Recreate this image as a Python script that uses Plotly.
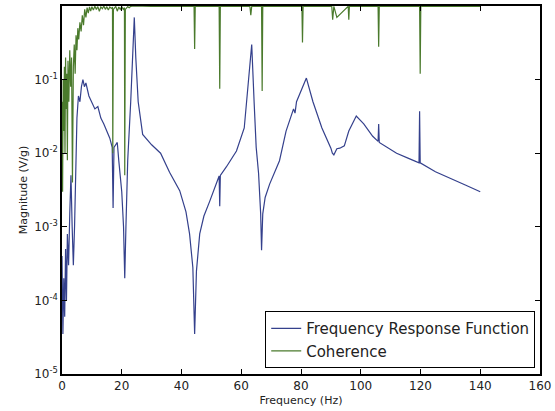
import plotly.graph_objects as go

# Frequency Response Function (Hz, V/g)
frf_freq = [0.0, 0.3, 0.6, 0.9, 1.2, 1.5, 1.8, 2.2, 2.6, 3.0, 3.4, 3.8, 4.2, 4.6, 5.0, 5.5, 6.0, 6.5, 7.0, 7.5, 8.0,
            9.0, 10.0, 11.0, 12.0, 13.0, 14.0, 15.0, 16.0, 16.8, 17.1, 17.4, 18.0, 18.5, 19.0, 20.0, 20.6, 21.0, 21.4,
            22.0, 23.0, 23.7, 24.2, 24.7, 25.5, 27.0, 30.0, 33.0, 36.0, 39.4, 41.5, 42.7, 43.8, 44.4, 45.0, 46.1,
            47.5, 49.4, 51.0, 52.6, 52.8, 53.0, 55.0, 58.4, 61.0, 62.2, 63.5, 64.3, 65.0, 65.8, 66.5, 66.8, 67.2,
            68.0, 69.5, 72.8, 75.0, 77.5, 78.0, 78.5, 80.0, 81.8, 84.0, 87.0, 90.0, 90.5, 91.0, 92.0, 93.0, 94.5,
            96.0, 98.5, 101.0, 104.0, 105.8, 106.0, 106.2, 108.0, 112.0, 116.0, 119.5, 119.7, 119.9, 125.0, 130.0,
            135.0, 140.0]
frf_mag = [4e-4, 3.5e-5, 2e-4, 6e-5, 5e-4, 1e-4, 8e-4, 3e-4, 1.5e-3, 5e-3, 1e-3, 3e-4, 1e-3, 6e-3, 3e-2, 6e-2, 5e-2, 8e-2, 1e-1, 8e-2, 9e-2,
           6e-2, 5e-2, 4e-2, 4.3e-2, 3e-2, 2.5e-2, 2e-2, 1.6e-2, 1.2e-2, 1.8e-3, 1.2e-2, 1.3e-2, 1.4e-2, 8e-3, 3e-3, 1e-3, 2e-4, 1e-3,
           8e-3, 5e-2, 2e-1, 7e-1, 2e-1, 5e-2, 1.8e-2, 1.3e-2, 1e-2, 5.5e-3, 3.1e-3, 1.6e-3, 8e-4, 2.8e-4, 3.5e-5, 2.5e-4, 8e-4,
           1.4e-3, 2.2e-3, 3.4e-3, 4.9e-3, 1.9e-3, 5e-3, 6.5e-3, 1.07e-2, 2.2e-2, 8.5e-2, 3e-1, 5e-2, 1.2e-2, 5.3e-3, 1.5e-3, 4.8e-4, 1.5e-3,
           2.5e-3, 3.8e-3, 7.9e-3, 2e-2, 4e-2, 3.5e-2, 5e-2, 7e-2, 1.05e-1, 5e-2, 2.2e-2, 1.17e-2, 1e-2, 9.5e-3, 1.15e-2, 1.17e-2, 1.26e-2,
           2e-2, 3.2e-2, 2.5e-2, 1.7e-2, 1.45e-2, 2.5e-2, 1.4e-2, 1.26e-2, 1e-2, 8.5e-3, 7.4e-3, 3.7e-2, 7.4e-3, 5.6e-3, 4.5e-3,
           3.7e-3, 3e-3]

# Coherence (0..1)
coh_freq = [0.0, 0.2, 0.4, 0.6, 0.8, 1.0, 1.2, 1.4, 1.6, 1.8, 2.0, 2.3, 2.6, 2.9, 3.2, 3.5, 3.8, 4.1, 4.4, 4.7, 5.0, 5.3,
            5.6, 6.0, 6.4, 6.8, 7.2, 7.6, 8.0, 8.4, 8.8, 9.2, 9.6, 10.0, 10.5, 11.0, 11.5, 12.0, 12.5, 13.0, 13.5, 14.0,
            14.5, 15.0, 15.5, 16.0, 16.5, 16.9, 17.0, 17.2, 18.0, 18.5, 19.0, 19.5, 20.0, 20.5, 20.9, 21.0, 21.2, 22.0,
            22.5, 23.0, 24.0, 30.0, 44.2, 44.4, 44.6, 52.6, 52.8, 53.0, 60.0, 62.9, 63.2, 63.5, 66.8, 67.0, 67.2,
            80.3, 80.5, 80.7, 90.3, 90.6, 91.0, 92.0, 95.8, 96.0, 96.2, 105.8, 106.0, 106.2, 119.7, 119.9, 120.1,
            130.0, 140.0]
coh = [0.05, 0.003, 0.1, 0.02, 0.15, 0.01, 0.2, 0.04, 0.12, 0.008, 0.18, 0.05, 0.25, 0.08, 0.2, 0.004, 0.15, 0.3, 0.12, 0.4, 0.25, 0.5,
       0.35, 0.6, 0.45, 0.75, 0.55, 0.9, 0.7, 0.95, 0.8, 0.97, 0.85, 0.98, 0.88, 0.99, 0.9, 0.98, 0.85, 0.97, 0.92, 1.0,
       0.9, 0.98, 0.88, 0.97, 0.93, 0.95, 0.01, 0.9, 0.99, 0.85, 0.97, 0.9, 0.98, 0.9, 0.95, 0.005, 0.9, 0.98,
       0.95, 0.99, 1.0, 0.99, 0.99, 0.26, 0.99, 0.99, 0.075, 0.99, 0.99, 0.99, 0.75, 0.99, 0.99, 0.07, 0.99,
       0.99, 0.32, 0.99, 0.99, 0.65, 0.99, 0.7, 0.99, 0.65, 0.99, 0.99, 0.28, 0.99, 0.99, 0.12, 0.99,
       0.99, 0.99]

x_ticks = [0, 20, 40, 60, 80, 100, 120, 140, 160]
y_ticks = [1e-5, 1e-4, 1e-3, 1e-2, 1e-1, 1e0]
y_ticktext = ["10<sup>-5</sup>", "10<sup>-4</sup>", "10<sup>-3</sup>", "10<sup>-2</sup>", "10<sup>-1</sup>", "10<sup>0</sup>"]

fig = go.Figure()
fig.add_trace(go.Scatter(x=frf_freq, y=frf_mag, mode="lines", name="Frequency Response Function",
                         line=dict(color="#34408c", width=1.2)))
fig.add_trace(go.Scatter(x=coh_freq, y=coh, mode="lines", name="Coherence",
                         line=dict(color="#4a7a2c", width=1.2)))

axis_common = dict(showgrid=False, zeroline=False, showline=True, linecolor="black", linewidth=1.5,
                   mirror="ticks", ticks="inside", ticklen=5, tickcolor="black",
                   tickfont=dict(family="DejaVu Sans", size=12, color="#222"))
fig.update_xaxes(range=[0, 160], tickvals=x_ticks, title=dict(text="Frequency (Hz)", standoff=4,
                 font=dict(family="DejaVu Sans", size=11, color="#222")), **axis_common)
fig.update_yaxes(type="log", range=[-5, 0], tickvals=y_ticks, ticktext=y_ticktext,
                 title=dict(text="Magnitude (V/g)", standoff=4, font=dict(family="DejaVu Sans", size=11, color="#222")),
                 **axis_common)

fig.update_layout(
    width=555, height=411,
    margin=dict(l=62, r=14, t=4, b=37),
    paper_bgcolor="white", plot_bgcolor="white",
    font=dict(family="DejaVu Sans", color="#222"),
    legend=dict(x=0.99, y=0.016, xanchor="right", yanchor="bottom",
                bgcolor="white", bordercolor="black", borderwidth=1,
                font=dict(family="DejaVu Sans", size=15, color="#222"),
                itemwidth=30, tracegroupgap=0),
    showlegend=True,
)

fig.write_html("out.html", config={"displayModeBar": False},
               post_script="document.body.style.margin='0';")
